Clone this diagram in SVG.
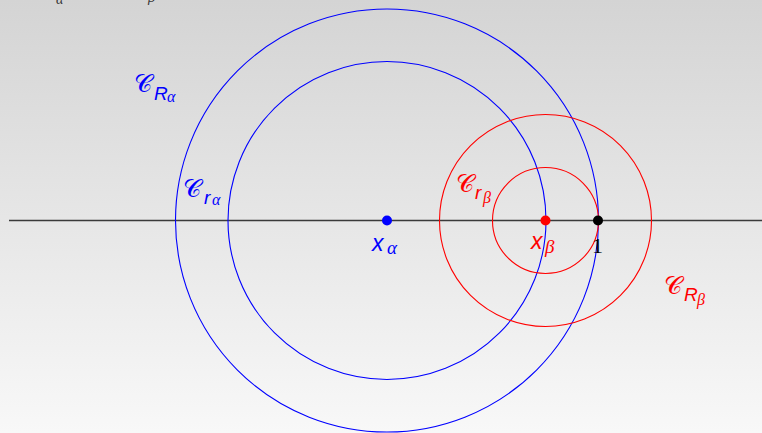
<svg xmlns="http://www.w3.org/2000/svg" width="762" height="433" viewBox="0 0 762 433">
<defs>
<linearGradient id="bg" x1="0" y1="0" x2="0" y2="1">
<stop offset="0" stop-color="#d4d4d4"/>
<stop offset="1" stop-color="#f8f8f8"/>
</linearGradient>
<style>
.blue{stroke:#0000ff;fill:none;stroke-width:1.1}
.red{stroke:#ff0000;fill:none;stroke-width:1.1}
.cal{font-family:"DejaVu Sans","Liberation Serif",serif;font-size:25px}
.sub{font-family:"Liberation Sans",sans-serif;font-style:italic;font-size:19px}
.subsub{font-family:"Liberation Serif",serif;font-style:italic;font-size:16px}
.pt{font-family:"Liberation Sans",sans-serif;font-style:italic;font-size:23px}
.ptsub{font-family:"Liberation Serif",serif;font-style:italic;font-size:19px}
.cut{font-family:"Liberation Serif",serif;font-style:italic;font-size:14px;fill:#333}
</style>
</defs>
<rect width="762" height="433" fill="url(#bg)"/>
<g id="top-cut">
<text class="cut" x="56" y="4">α</text>
<text class="cut" x="148" y="2">β</text>
</g>
<g id="connectors">
<line x1="9" y1="220.5" x2="762" y2="220.5" stroke="#3a3a3a" stroke-width="1.5"/>
</g>
<g id="circle-R-alpha"><circle class="blue" cx="387" cy="220.5" r="211.5"/></g>
<g id="circle-r-alpha"><circle class="blue" cx="387" cy="220.5" r="159"/></g>
<g id="circle-R-beta"><circle class="red" cx="545.5" cy="220.5" r="106"/></g>
<g id="circle-r-beta"><circle class="red" cx="545.5" cy="220.5" r="53"/></g>
<g id="label-C-R-alpha" fill="#0000ff">
<text class="cal" x="134" y="92">𝒞</text><text class="sub" x="154" y="100">R</text><text class="subsub" x="167" y="102">α</text>
</g>
<g id="label-C-r-alpha" fill="#0000ff">
<text class="cal" x="183" y="197">𝒞</text><text class="sub" x="204" y="204">r</text><text class="subsub" x="212" y="205">α</text>
</g>
<g id="label-C-r-beta" fill="#ff0000">
<text class="cal" x="456" y="192">𝒞</text><text class="sub" x="475" y="199">r</text><text class="subsub" x="483" y="203">β</text>
</g>
<g id="label-C-R-beta" fill="#ff0000">
<text class="cal" x="664" y="294">𝒞</text><text class="sub" x="684" y="301">R</text><text class="subsub" x="697" y="305">β</text>
</g>
<g id="point-x-alpha">
<circle cx="387" cy="220.5" r="5" fill="#0000ff"/>
<text fill="#0000ff" class="pt" x="372" y="251">x</text><text fill="#0000ff" class="ptsub" x="387" y="254">α</text>
</g>
<g id="point-x-beta">
<circle cx="545.5" cy="220.5" r="5" fill="#ff0000"/>
<text fill="#ff0000" class="pt" x="531" y="249">x</text><text fill="#ff0000" class="ptsub" x="545" y="253">β</text>
</g>
<g id="point-1">
<circle cx="598" cy="220.5" r="5" fill="#000"/>
<text fill="#000" font-family="Liberation Serif,serif" font-size="22" x="592" y="253">1</text>
</g>
</svg>
